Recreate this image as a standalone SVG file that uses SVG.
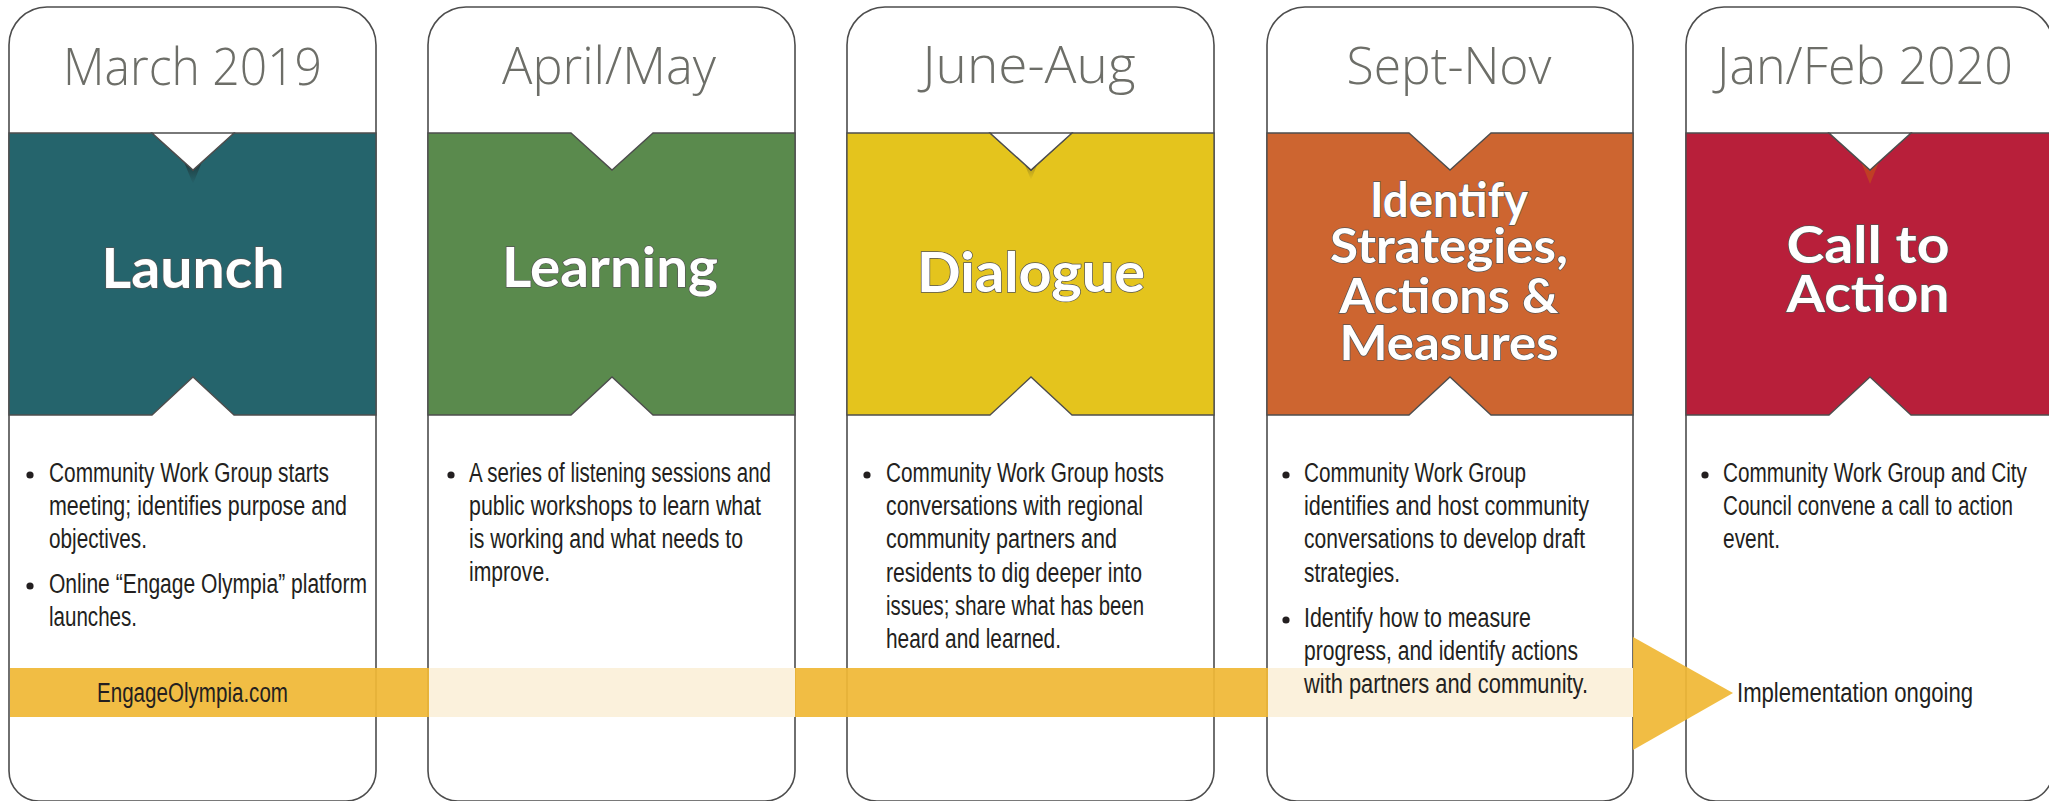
<svg xmlns="http://www.w3.org/2000/svg" width="2049" height="801" viewBox="0 0 2049 801">
<style>
.card{fill:#ffffff;stroke:#4d4d4d;stroke-width:1.6}
.band{stroke:#4d4d4d;stroke-width:1.3;stroke-linejoin:miter}
.notch{fill:#ffffff;stroke:#4d4d4d;stroke-width:1.3}
.shadow{fill:url(#sh)}
.date{font-family:'Open Sans','Lato',sans-serif;font-weight:300;font-size:52px;fill:#6d6e68;text-anchor:middle}
.title{font-family:'Lato','Noto Sans',sans-serif;font-weight:700;font-size:55px;fill:#ffffff;stroke:#555555;stroke-width:1.4;paint-order:stroke;text-anchor:middle}
.t2{font-size:48px}
.t3{font-size:51px}
.body{font-family:'Liberation Sans Narrow','Liberation Sans',sans-serif;font-size:27px;fill:#231f20}
.bul{fill:#231f20}
.light{fill:#fbf1dc}
.arrow{fill:#f0b836;opacity:0.93}
</style>
<defs>
<linearGradient id="sh" x1="0" y1="0" x2="0" y2="1">
<stop offset="0.45" stop-color="#1a1a1a" stop-opacity="0.45"/>
<stop offset="1" stop-color="#1a1a1a" stop-opacity="0"/>
</linearGradient>
</defs>

<g id="card1">
<path class="card" d="M9,45 A38,38 0 0 1 47,7 H338 A38,38 0 0 1 376,45 V771 A30,30 0 0 1 346,801 H39 A30,30 0 0 1 9,771 Z"/>
<polygon class="band" fill="#25646c" points="9,133 152,133 193,170 234,133 376,133 376,415 234,415 193,377 152,415 9,415"/>
<polygon class="shadow" points="180,152 193,184 206,152"/>
<polygon class="notch" points="152,133 193,170 234,133"/>
</g>
<g id="card2">
<path class="card" d="M428,45 A38,38 0 0 1 466,7 H757 A38,38 0 0 1 795,45 V771 A30,30 0 0 1 765,801 H458 A30,30 0 0 1 428,771 Z"/>
<polygon class="band" fill="#5a8a4d" points="428,133 571,133 612,170 653,133 795,133 795,415 653,415 612,377 571,415 428,415"/>
</g>
<g id="card3">
<path class="card" d="M847,45 A38,38 0 0 1 885,7 H1176 A38,38 0 0 1 1214,45 V771 A30,30 0 0 1 1184,801 H877 A30,30 0 0 1 847,771 Z"/>
<polygon class="band" fill="#e4c41d" points="847,133 990,133 1031,170 1072,133 1214,133 1214,415 1072,415 1031,377 990,415 847,415"/>
<polygon class="shadow" points="1021,155 1031,180 1041,155" opacity="0.6"/>
<polygon class="notch" points="990,133 1031,170 1072,133"/>
</g>
<g id="card4">
<path class="card" d="M1267,45 A38,38 0 0 1 1305,7 H1595 A38,38 0 0 1 1633,45 V771 A30,30 0 0 1 1603,801 H1297 A30,30 0 0 1 1267,771 Z"/>
<polygon class="band" fill="#cd6530" points="1267,133 1409,133 1450,170 1491,133 1633,133 1633,415 1491,415 1450,377 1409,415 1267,415"/>
</g>
<g id="card5">
<path class="card" d="M1686,45 A38,38 0 0 1 1724,7 H2015 A38,38 0 0 1 2053,45 V771 A30,30 0 0 1 2023,801 H1716 A30,30 0 0 1 1686,771 Z"/>
<polygon class="band" fill="#b81f3a" points="1686,133 1829,133 1870,170 1911,133 2053,133 2053,415 1911,415 1870,377 1829,415 1686,415"/>
<polygon points="1857,152 1870,184 1883,152" fill="#c2461f" opacity="0.8"/>
<polygon class="notch" points="1829,133 1870,170 1911,133"/>
</g>

<g id="connectors">
<rect class="arrow" x="10" y="668" width="1623" height="49"/>
<polygon class="arrow" points="1633,637 1733,693 1633,750"/>
<rect class="light" x="429" y="668" width="366" height="49"/>
<rect class="light" x="1268" y="668" width="365" height="49"/>
</g>

<g id="labels">
<text class="date" x="192.5" y="85" textLength="259" lengthAdjust="spacingAndGlyphs">March 2019</text>
<text class="date" x="609" y="84" textLength="214" lengthAdjust="spacingAndGlyphs">April/May</text>
<text class="date" x="1029" y="83" textLength="213" lengthAdjust="spacingAndGlyphs">June-Aug</text>
<text class="date" x="1449" y="84" textLength="205" lengthAdjust="spacingAndGlyphs">Sept-Nov</text>
<text class="date" x="1865" y="84" textLength="296" lengthAdjust="spacingAndGlyphs">Jan/Feb 2020</text>

<text class="title" x="193" y="288" textLength="183" lengthAdjust="spacingAndGlyphs">Launch</text>
<text class="title" x="610" y="287" textLength="216" lengthAdjust="spacingAndGlyphs">Learning</text>
<text class="title" x="1031" y="292" textLength="228" lengthAdjust="spacingAndGlyphs">Dialogue</text>
<text class="title t2" x="1449" y="217" textLength="158" lengthAdjust="spacingAndGlyphs">Identify</text>
<text class="title t2" x="1449" y="263" textLength="238" lengthAdjust="spacingAndGlyphs">Strategies,</text>
<text class="title t2" x="1449" y="313" textLength="219" lengthAdjust="spacingAndGlyphs">Actions &amp;</text>
<text class="title t2" x="1449" y="360" textLength="219" lengthAdjust="spacingAndGlyphs">Measures</text>
<text class="title t3" x="1868" y="263" textLength="163" lengthAdjust="spacingAndGlyphs">Call to</text>
<text class="title t3" x="1868" y="312" textLength="163" lengthAdjust="spacingAndGlyphs">Action</text>

<circle class="bul" cx="30" cy="475" r="3.6"/>
<text class="body" x="49" y="482" textLength="280" lengthAdjust="spacingAndGlyphs">Community Work Group starts</text>
<text class="body" x="49" y="515" textLength="298" lengthAdjust="spacingAndGlyphs">meeting; identifies purpose and</text>
<text class="body" x="49" y="548" textLength="98" lengthAdjust="spacingAndGlyphs">objectives.</text>
<circle class="bul" cx="30" cy="586" r="3.6"/>
<text class="body" x="49" y="593" textLength="318" lengthAdjust="spacingAndGlyphs">Online “Engage Olympia” platform</text>
<text class="body" x="49" y="626" textLength="88" lengthAdjust="spacingAndGlyphs">launches.</text>

<circle class="bul" cx="451" cy="475" r="3.6"/>
<text class="body" x="469" y="482" textLength="302" lengthAdjust="spacingAndGlyphs">A series of listening sessions and</text>
<text class="body" x="469" y="515" textLength="292" lengthAdjust="spacingAndGlyphs">public workshops to learn what</text>
<text class="body" x="469" y="548" textLength="274" lengthAdjust="spacingAndGlyphs">is working and what needs to</text>
<text class="body" x="469" y="581" textLength="81" lengthAdjust="spacingAndGlyphs">improve.</text>

<circle class="bul" cx="867" cy="475" r="3.6"/>
<text class="body" x="886" y="482" textLength="278" lengthAdjust="spacingAndGlyphs">Community Work Group hosts</text>
<text class="body" x="886" y="515" textLength="257" lengthAdjust="spacingAndGlyphs">conversations with regional</text>
<text class="body" x="886" y="548" textLength="231" lengthAdjust="spacingAndGlyphs">community partners and</text>
<text class="body" x="886" y="582" textLength="256" lengthAdjust="spacingAndGlyphs">residents to dig deeper into</text>
<text class="body" x="886" y="615" textLength="258" lengthAdjust="spacingAndGlyphs">issues; share what has been</text>
<text class="body" x="886" y="648" textLength="175" lengthAdjust="spacingAndGlyphs">heard and learned.</text>

<circle class="bul" cx="1286" cy="475" r="3.6"/>
<text class="body" x="1304" y="482" textLength="222" lengthAdjust="spacingAndGlyphs">Community Work Group</text>
<text class="body" x="1304" y="515" textLength="285" lengthAdjust="spacingAndGlyphs">identifies and host community</text>
<text class="body" x="1304" y="548" textLength="281" lengthAdjust="spacingAndGlyphs">conversations to develop draft</text>
<text class="body" x="1304" y="582" textLength="96" lengthAdjust="spacingAndGlyphs">strategies.</text>
<circle class="bul" cx="1286" cy="620" r="3.6"/>
<text class="body" x="1304" y="627" textLength="227" lengthAdjust="spacingAndGlyphs">Identify how to measure</text>
<text class="body" x="1304" y="660" textLength="274" lengthAdjust="spacingAndGlyphs">progress, and identify actions</text>
<text class="body" x="1304" y="693" textLength="284" lengthAdjust="spacingAndGlyphs">with partners and community.</text>

<circle class="bul" cx="1705" cy="475" r="3.6"/>
<text class="body" x="1723" y="482" textLength="304" lengthAdjust="spacingAndGlyphs">Community Work Group and City</text>
<text class="body" x="1723" y="515" textLength="290" lengthAdjust="spacingAndGlyphs">Council convene a call to action</text>
<text class="body" x="1723" y="548" textLength="57" lengthAdjust="spacingAndGlyphs">event.</text>

<text class="body" x="97" y="702" textLength="191" lengthAdjust="spacingAndGlyphs">EngageOlympia.com</text>
<text class="body" x="1737" y="702" textLength="236" lengthAdjust="spacingAndGlyphs">Implementation ongoing</text>
</g>
</svg>
